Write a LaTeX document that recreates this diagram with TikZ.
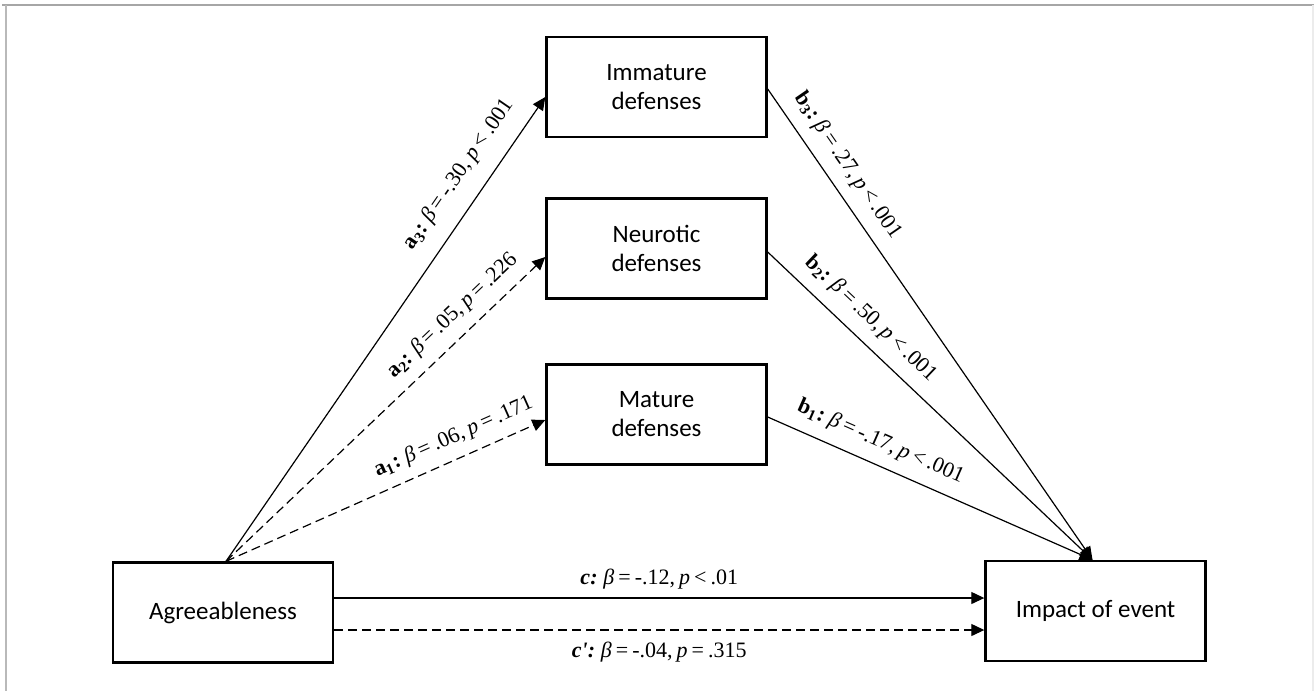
\documentclass[tikz,border=0pt]{standalone}
\usepackage{fontspec}
\setmainfont{Liberation Serif}
\newfontfamily\boxfont{Carlito}
\usetikzlibrary{arrows.meta,calc}
\newcommand\lbltxt[1]{\fontsize{11}{13}\selectfont\spaceskip=2pt\relax #1}
\begin{document}
\begin{tikzpicture}[x=0.5pt,y=-0.5pt,
  var/.style={draw, line width=1.2pt, minimum width=110pt, minimum height=50pt, inner sep=0pt, align=center, font=\boxfont\fontsize{12.5}{14.5}\selectfont},
  conn/.style={line width=0.6pt, -{Triangle[length=6.5pt,width=6pt]}},
  dsh/.style={dash pattern=on 4.5pt off 2.5pt},
  lab/.style={sloped, inner sep=1pt}
]
\useasboundingbox (0,0) rectangle (1316,691);
% frame
\draw[gray!70, line width=1pt] (2,5) -- (1314,5);
\draw[gray!55, line width=0.6pt] (6,5) -- (6,691);
\draw[gray!15, line width=1pt] (1313,5) -- (1313,691);
% nodes
\node[var] (imm) at (656.5,87) {Immature\\defenses};
\node[var] (neu) at (656.5,248.5) {Neurotic\\defenses};
\node[var] (mat) at (656.5,414.5) {Mature\\defenses};
\node[var] (agr) at (223,612.5) {Agreeableness};
\node[var] (imp) at (1095.5,611) {Impact of event};
\coordinate (agrtop) at ($(agr.north)+(3,0)$);
\coordinate (imptop) at ($(imp.north)+(-3,0)$);
% a paths
\draw[conn] (agrtop) -- node[lab, pos=0.8, above=7.3pt] {\lbltxt{\textbf{a\textsubscript{3}:} \textit{β} = -.30, \textit{p} < .001}} ($(imm.west)+(0,10)$);
\draw[conn, dsh] (agrtop) -- node[lab, pos=0.756, above=4.4pt] {\lbltxt{\textbf{a\textsubscript{2}:} \textit{β} = .05, \textit{p} = .226}} ($(neu.west)+(0,8.5)$);
\draw[conn, dsh] (agrtop) -- node[lab, pos=0.74, above=4.4pt] {\lbltxt{\textbf{a\textsubscript{1}:} \textit{β} = .06, \textit{p} = .171}} ($(mat.west)+(0,5.5)$);
% b paths
\draw[conn] ($(imm.east)+(0,2)$) -- node[lab, pos=0.19, above=4.9pt] {\lbltxt{\textbf{b\textsubscript{3}:} \textit{β} = .27, \textit{p} < .001}} (imptop);
\draw[conn] ($(neu.east)+(0,3.5)$) -- node[lab, pos=0.27, above=4.9pt] {\lbltxt{\textbf{b\textsubscript{2}:} \textit{β} = .50, \textit{p} < .001}} (imptop);
\draw[conn] ($(mat.east)+(0,2.5)$) -- node[lab, pos=0.32, above=4.9pt] {\lbltxt{\textbf{b\textsubscript{1}:} \textit{β} = -.17, \textit{p} < .001}} (imptop);
% c paths
\coordinate (cs) at ($(agr.east)+(0,-14.5)$);
\coordinate (cps) at ($(agr.east)+(0,17.5)$);
\draw[conn] (cs) -- node[lab, above=2.9pt] {\lbltxt{\textbf{\textit{c:}} \textit{β} = -.12, \textit{p} < .01}} (imp.west |- cs);
\draw[conn, dsh] (cps) -- node[lab, below=4.9pt] {\lbltxt{\textbf{\textit{c\textquotesingle:}} \textit{β} = -.04, \textit{p} = .315}} (imp.west |- cps);
\end{tikzpicture}
\end{document}
